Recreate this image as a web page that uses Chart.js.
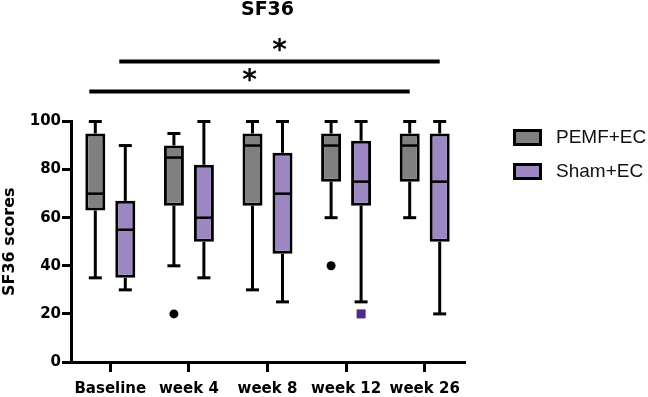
<!DOCTYPE html>
<html>
<head>
<meta charset="utf-8">
<script src="https://cdn.jsdelivr.net/npm/chart.js@4.4.1/dist/chart.umd.min.js"></script>
<style>
    html, body { margin: 0; padding: 0; background: #fff; }
</style>
</head>
<body>
<canvas id="sf36Chart" width="648" height="397"></canvas>
<script>
const labels = ['Baseline', 'week 4', 'week 8', 'week 12', 'week 26'];
const seriesNames = ['PEMF+EC', 'Sham+EC'];

// Box plot werte: min, Q1, Median, Q3, max
const pemfMin = [35, 40, 30, 60, 60];
const pemfQ1 = [63, 65, 65, 75, 75];
const pemfMedian = [70, 85, 90, 90, 90];
const pemfQ3 = [95, 90, 95, 95, 95];
const pemfMax = [100, 95, 100, 100, 100];
const pemfOutliers = [[], [20], [], [40], []];

const shamMin = [30, 35, 25, 25, 20];
const shamQ1 = [35, 50, 45, 65, 50];
const shamMedian = [55, 60, 70, 75, 75];
const shamQ3 = [67, 82, 87, 92, 95];
const shamMax = [90, 100, 100, 100, 100];
const shamOutliers = [[], [], [], [20], []];

// Signifikanz: Baseline vs week 26
const sigSeries = [1, 0];
const sigFrom = [0, 0];
const sigTo = [4, 4];
const sigLevel = [125, 112.5];
const sigMark = ['*', '*'];

const FONT = "'DejaVu Sans', sans-serif";
const colors = ['#808080', '#9d87c3'];
const outlierColors = ['#000000', '#4e2a8c'];

const series = [
    { min: pemfMin, q1: pemfQ1, med: pemfMedian, q3: pemfQ3, max: pemfMax, out: pemfOutliers, shape: 'circle' },
    { min: shamMin, q1: shamQ1, med: shamMedian, q3: shamQ3, max: shamMax, out: shamOutliers, shape: 'square' }
];

function line(ctx, x1, y1, x2, y2) {
    ctx.beginPath();
    ctx.moveTo(x1, y1);
    ctx.lineTo(x2, y2);
    ctx.stroke();
}

const boxPlot = {
    id: 'boxPlot',
    afterDatasetsDraw(chart) {
        const ctx = chart.ctx;
        const y = chart.scales.y;
        ctx.save();
        ctx.strokeStyle = '#000';
        ctx.lineCap = 'butt';

        series.forEach((s, i) => {
            const meta = chart.getDatasetMeta(i);
            meta.data.forEach((bar, j) => {
                const x = bar.x;
                const half = bar.width / 2;
                const yMax = y.getPixelForValue(s.max[j]);
                const yMin = y.getPixelForValue(s.min[j]);

                ctx.lineWidth = 3;
                line(ctx, x, y.getPixelForValue(s.q3[j]), x, yMax);
                line(ctx, x, y.getPixelForValue(s.q1[j]), x, yMin);
                line(ctx, x - 6.5, yMax, x + 6.5, yMax);
                line(ctx, x - 6.5, yMin, x + 6.5, yMin);

                ctx.lineWidth = 2.5;
                const yMed = y.getPixelForValue(s.med[j]);
                line(ctx, x - half + 2, yMed, x + half - 2, yMed);

                ctx.fillStyle = outlierColors[i];
                for (const v of s.out[j]) {
                    const py = y.getPixelForValue(v);
                    if (s.shape === 'circle') {
                        ctx.beginPath();
                        ctx.arc(x, py, 4.5, 0, Math.PI * 2);
                        ctx.fill();
                    } else {
                        ctx.fillRect(x - 4.5, py - 4.5, 9, 9);
                    }
                }
            });
        });
        ctx.restore();
    },
    afterDraw(chart) {
        const ctx = chart.ctx;
        const y = chart.scales.y;
        const area = chart.chartArea;
        ctx.save();

        // Signifikanz-Balken
        for (let k = 0; k < sigSeries.length; k++) {
            const meta = chart.getDatasetMeta(sigSeries[k]);
            const x1 = meta.data[sigFrom[k]].x;
            const x2 = meta.data[sigTo[k]].x;
            const yy = y.getPixelForValue(sigLevel[k]);
            ctx.strokeStyle = '#000';
            ctx.lineWidth = 4;
            line(ctx, x1 - 6, yy, x2, yy);

            ctx.fillStyle = '#000';
            ctx.font = 'bold 28px ' + FONT;
            ctx.textAlign = 'center';
            ctx.textBaseline = 'alphabetic';
            const m = ctx.measureText(sigMark[k]);
            const cy = yy - 16;
            ctx.fillText(sigMark[k], (x1 + x2) / 2 - 3, cy + (m.actualBoundingBoxAscent - m.actualBoundingBoxDescent) / 2);
        }

        // Legende
        const lx = area.right + 49;
        seriesNames.forEach((name, i) => {
            const top = area.top + 7.5 + i * 34;
            ctx.fillStyle = colors[i];
            ctx.fillRect(lx, top, 29, 17);
            ctx.strokeStyle = '#000';
            ctx.lineWidth = 3;
            ctx.strokeRect(lx + 1.5, top + 1.5, 26, 14);

            ctx.fillStyle = '#111';
            ctx.font = "19px 'Liberation Sans', Arial, sans-serif";
            ctx.textAlign = 'left';
            ctx.textBaseline = 'middle';
            ctx.fillText(name, lx + 43, top + 9);
        });
        ctx.restore();
    }
};

const ctx = document.getElementById('sf36Chart').getContext('2d');
new Chart(ctx, {
    type: 'bar',
    data: {
        labels: labels,
        datasets: series.map((s, i) => ({
            label: seriesNames[i],
            data: labels.map((l, j) => [s.q1[j], s.q3[j]]),
            backgroundColor: colors[i],
            borderColor: '#000',
            borderWidth: 3,
            borderSkipped: false,
            barPercentage: 0.667,
            categoryPercentage: 0.763
        }))
    },
    options: {
        responsive: false,
        animation: false,
        layout: { padding: { top: 0, right: 184, bottom: 0, left: 0 } },
        plugins: {
            legend: { display: false },
            tooltip: { enabled: false },
            title: {
                display: true,
                text: 'SF36',
                fullSize: false,
                color: '#000',
                font: { family: FONT, size: 19, weight: 'bold', lineHeight: 1 },
                padding: { top: 1, bottom: 101.5 }
            }
        },
        scales: {
            x: {
                offset: true,
                grid: { offset: false, drawOnChartArea: false, color: '#000', lineWidth: 3, tickLength: 10 },
                border: { color: '#000', width: 3 },
                ticks: { color: '#000', padding: 8, maxRotation: 0, font: { family: FONT, size: 15, weight: 'bold' } },
                afterFit: scale => { scale.height = 35; }
            },
            y: {
                min: 0,
                max: 100,
                ticks: { stepSize: 20, color: '#000', padding: 1, font: { family: FONT, size: 15, weight: 'bold' } },
                grid: { drawOnChartArea: false, color: '#000', lineWidth: 3, tickLength: 9 },
                border: { color: '#000', width: 3 },
                title: {
                    display: true,
                    text: 'SF36 scores',
                    color: '#000',
                    padding: { top: 0, bottom: 0 },
                    font: { family: FONT, size: 16, weight: 'bold' }
                },
                afterFit: scale => { scale.width = 71; }
            }
        }
    },
    plugins: [boxPlot]
});
</script>
</body>
</html>
